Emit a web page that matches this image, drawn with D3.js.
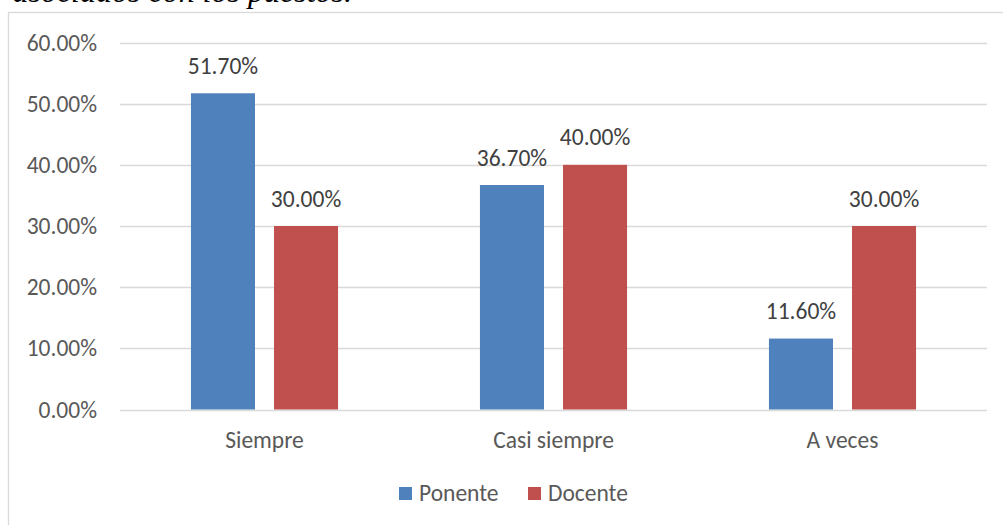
<!DOCTYPE html>
<html>
<head>
<meta charset="utf-8">
<script src="https://cdn.jsdelivr.net/npm/d3@7"></script>
<style>
  body { margin: 0; background: #fff; }
  svg text { font-family: Calibri, Carlito, "Open Sans", sans-serif; }
</style>
</head>
<body>
<svg id="chart" width="1003" height="525"></svg>
<script>
// values
var categories = ["Siempre", "Casi siempre", "A veces"];
var series = ["Ponente", "Docente"];
var ponente = [0.517, 0.367, 0.116];
var docente = [0.30, 0.40, 0.30];
var yTicks = [0, 0.1, 0.2, 0.3, 0.4, 0.5, 0.6];
var colors = {"Ponente": "#4F81BD", "Docente": "#C0504D"};

var svg = d3.select("#chart");
var fontSize = 23.5;

// caption line above the chart, cut off by the top edge
svg.append("text")
    .attr("x", 352)
    .attr("y", 2)
    .attr("text-anchor", "end")
    .attr("font-size", 32)
    .attr("font-style", "italic")
    .style("font-family", "'Liberation Serif', serif")
    .attr("fill", "#000")
    .text("asociados con los puestos.");

// chart frame
svg.append("rect")
    .attr("x", 8.5)
    .attr("y", 12.5)
    .attr("width", 1010)
    .attr("height", 530)
    .attr("fill", "#fff")
    .attr("stroke", "#D9D9D9")
    .attr("stroke-width", 1.3);

var plotLeft = 120, plotRight = 987, plotTop = 42.5, plotBottom = 409.5;

var x0 = d3.scaleBand().domain(categories).range([plotLeft, plotRight])
    .paddingInner(0.491).paddingOuter(0.2455);
var x1 = d3.scaleBand().domain(series).range([0, x0.bandwidth()])
    .paddingInner(0.229);
var y = d3.scaleLinear().domain([0, 0.6]).range([plotBottom, plotTop]);

var pct = d3.format(".2%");

// gridlines
svg.append("g")
    .selectAll("line")
    .data(yTicks)
    .enter()
    .append("line")
    .attr("x1", plotLeft)
    .attr("x2", plotRight)
    .attr("y1", d => Math.round(y(d)) + 0.5)
    .attr("y2", d => Math.round(y(d)) + 0.5)
    .attr("stroke", "#D9D9D9")
    .attr("stroke-width", 1.5);

// y axis labels
var yAxis = d3.axisLeft(y).tickValues(yTicks).tickFormat(pct).tickSize(0).tickPadding(23);
var yg = svg.append("g").attr("transform", "translate(" + plotLeft + ",0)").call(yAxis);
yg.select(".domain").remove();
yg.selectAll("text")
    .attr("font-size", fontSize)
    .attr("fill", "#595959")
    .style("font-family", "Calibri, Carlito, 'Open Sans', sans-serif");

// bars
var groups = svg.append("g")
    .selectAll("g.cat")
    .data(categories)
    .enter()
    .append("g")
    .attr("class", "cat")
    .attr("transform", d => "translate(" + x0(d) + ",0)");

var bars = groups.selectAll("g.bar")
    .data((d, i) => [{s: "Ponente", v: ponente[i]}, {s: "Docente", v: docente[i]}])
    .enter()
    .append("g")
    .attr("class", "bar");

bars.append("rect")
    .attr("x", d => x1(d.s))
    .attr("y", d => y(d.v))
    .attr("width", x1.bandwidth())
    .attr("height", d => y(0) - y(d.v))
    .attr("fill", d => colors[d.s]);

bars.append("text")
    .attr("x", d => x1(d.s) + x1.bandwidth() / 2)
    .attr("y", d => y(d.v) - 19.5)
    .attr("text-anchor", "middle")
    .attr("font-size", fontSize)
    .attr("fill", "#404040")
    .text(d => pct(d.v));

// category labels
var xAxis = d3.axisBottom(x0).tickSize(0).tickPadding(22);
var xg = svg.append("g").attr("transform", "translate(0," + plotBottom + ")").call(xAxis);
xg.select(".domain").remove();
xg.selectAll("text")
    .attr("font-size", fontSize)
    .attr("fill", "#595959")
    .style("font-family", "Calibri, Carlito, 'Open Sans', sans-serif");

// legend
var legendX = [399, 528];
var legend = svg.append("g")
    .selectAll("g")
    .data(series)
    .enter()
    .append("g")
    .attr("transform", (d, i) => "translate(" + legendX[i] + ",487)");

legend.append("rect")
    .attr("width", 13)
    .attr("height", 13)
    .attr("fill", d => colors[d]);

legend.append("text")
    .attr("x", 20)
    .attr("y", 14)
    .attr("font-size", fontSize)
    .attr("fill", "#595959")
    .text(d => d);
</script>
</body>
</html>
